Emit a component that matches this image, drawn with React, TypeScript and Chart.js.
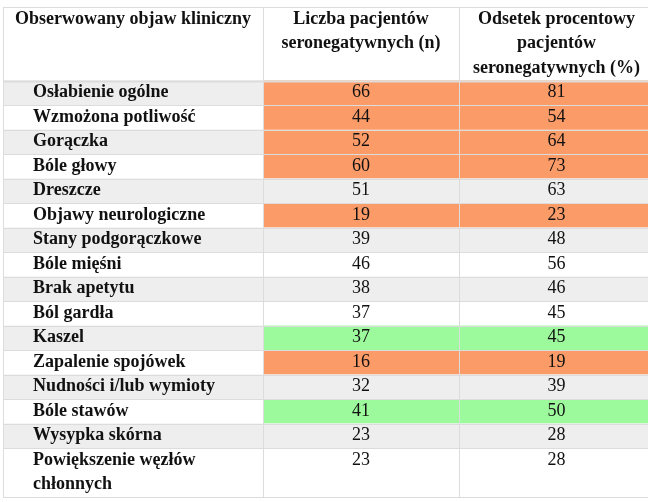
import React, { useEffect, useRef } from "react";
import { Chart, registerables } from "chart.js";

Chart.register(...registerables);

// ---- data ----
const headerCol1 = ["Obserwowany objaw kliniczny"];
const headerCol2 = ["Liczba pacjentów", "seronegatywnych (n)"];
const headerCol3 = ["Odsetek procentowy", "pacjentów", "seronegatywnych (%)"];

const symptoms = [
  "Osłabienie ogólne",
  "Wzmożona potliwość",
  "Gorączka",
  "Bóle głowy",
  "Dreszcze",
  "Objawy neurologiczne",
  "Stany podgorączkowe",
  "Bóle mięśni",
  "Brak apetytu",
  "Ból gardła",
  "Kaszel",
  "Zapalenie spojówek",
  "Nudności i/lub wymioty",
  "Bóle stawów",
  "Wysypka skórna",
  "Powiększenie węzłów\nchłonnych",
];

const patientsN = [66, 44, 52, 60, 51, 19, 39, 46, 38, 37, 37, 16, 32, 41, 23, 23];
const patientsPct = [81, 54, 64, 73, 63, 23, 48, 56, 46, 45, 45, 19, 39, 50, 28, 28];

// highlight category of each row: "hi" (orange), "lo" (green), "" (none)
const rowMark = ["hi", "hi", "hi", "hi", "", "hi", "", "", "", "", "lo", "hi", "", "lo", "", ""];

// ---- layout (table units) ----
const COL_EDGES = [0, 260, 456, 651];
const HEADER_UNITS = 3;
const TOTAL_UNITS = 20;

const COLORS = {
  hi: "#FB9B68",
  lo: "#9CF99C",
  stripe: "#EEEEEE",
  plain: "#FFFFFF",
  grid: "#DCDCDC",
  text: "#111111",
};

const FONT = "'Liberation Serif', 'Times New Roman', serif";
const FS = 18;

const tablePlugin = {
  id: "tablePlugin",
  beforeDatasetsDraw(chart: any) {
    const { ctx } = chart;
    const xs = chart.scales.x;
    const ys = chart.scales.y;
    const px = (v: number) => xs.getPixelForValue(v);
    const py = (v: number) => ys.getPixelForValue(v);

    ctx.save();

    const rows: { top: number; span: number; lines: string[] }[] = [];
    let cursor = HEADER_UNITS;
    symptoms.forEach((s) => {
      const lines = s.split("\n");
      rows.push({ top: cursor, span: lines.length, lines });
      cursor += lines.length;
    });

    ctx.fillStyle = COLORS.plain;
    ctx.fillRect(px(COL_EDGES[0]), py(0), px(COL_EDGES[3]) - px(COL_EDGES[0]), py(HEADER_UNITS) - py(0));

    rows.forEach((r, i) => {
      const y0 = py(r.top);
      const y1 = py(r.top + r.span);
      const base = i % 2 === 0 ? COLORS.stripe : COLORS.plain;
      for (let c = 0; c < 3; c++) {
        let fill = base;
        if (c > 0 && rowMark[i] === "hi") fill = COLORS.hi;
        if (c > 0 && rowMark[i] === "lo") fill = COLORS.lo;
        ctx.fillStyle = fill;
        ctx.fillRect(px(COL_EDGES[c]), y0, px(COL_EDGES[c + 1]) - px(COL_EDGES[c]), y1 - y0);
      }
    });

    ctx.strokeStyle = COLORS.grid;
    const hLine = (u: number, w = 1) => {
      ctx.lineWidth = w;
      const y = Math.round(py(u)) + 0.5;
      ctx.beginPath();
      ctx.moveTo(px(COL_EDGES[0]), y);
      ctx.lineTo(px(COL_EDGES[3]), y);
      ctx.stroke();
    };
    hLine(0);
    hLine(HEADER_UNITS, 2);
    rows.forEach((r) => hLine(r.top + r.span));
    ctx.lineWidth = 1;
    for (let c = 0; c < 3; c++) {
      const x = Math.round(px(COL_EDGES[c])) + 0.5;
      ctx.beginPath();
      ctx.moveTo(x, py(0));
      ctx.lineTo(x, py(TOTAL_UNITS));
      ctx.stroke();
    }

    ctx.fillStyle = COLORS.text;
    ctx.textBaseline = "middle";
    ctx.font = `bold ${FS}px ${FONT}`;
    ctx.textAlign = "left";
    headerCol1.forEach((t, k) => ctx.fillText(t, px(12), py(k + 0.5)));
    ctx.textAlign = "center";
    const c2 = (px(COL_EDGES[1]) + px(COL_EDGES[2])) / 2;
    const c3 = (px(COL_EDGES[2]) + px(COL_EDGES[3])) / 2;
    headerCol2.forEach((t, k) => ctx.fillText(t, c2, py(k + 0.5)));
    headerCol3.forEach((t, k) => ctx.fillText(t, c3, py(k + 0.5)));

    rows.forEach((r, i) => {
      ctx.font = `bold ${FS}px ${FONT}`;
      ctx.textAlign = "left";
      r.lines.forEach((t, k) => ctx.fillText(t, px(30), py(r.top + k + 0.5)));
      ctx.font = `${FS}px ${FONT}`;
      ctx.textAlign = "center";
      ctx.fillText(String(patientsN[i]), c2, py(r.top + 0.5));
      ctx.fillText(String(patientsPct[i]), c3, py(r.top + 0.5));
    });

    ctx.restore();
  },
};

export default function App() {
  const ref = useRef<HTMLCanvasElement | null>(null);

  useEffect(() => {
    if (!ref.current) return;
    const chart = new Chart(ref.current, {
      type: "scatter",
      data: {
        datasets: [
          {
            data: patientsN.map((v, i) => ({ x: COL_EDGES[1], y: HEADER_UNITS + i })),
            pointRadius: 0,
            showLine: false,
          },
        ],
      },
      options: {
        animation: false,
        responsive: false,
        maintainAspectRatio: false,
        devicePixelRatio: 1,
        layout: { padding: { left: 3, top: 7, right: 0, bottom: 5 } },
        plugins: { legend: { display: false }, tooltip: { enabled: false } },
        events: [],
        scales: {
          x: { type: "linear", min: 0, max: 645, display: false },
          y: { type: "linear", min: 0, max: TOTAL_UNITS, reverse: true, display: false },
        },
      },
      plugins: [tablePlugin],
    });
    return () => chart.destroy();
  }, []);

  return (
    <div style={{ position: "fixed", left: 0, top: 0, width: 648, height: 502, background: "#fff" }}>
      <canvas ref={ref} width={648} height={502} style={{ width: 648, height: 502 }} />
    </div>
  );
}
